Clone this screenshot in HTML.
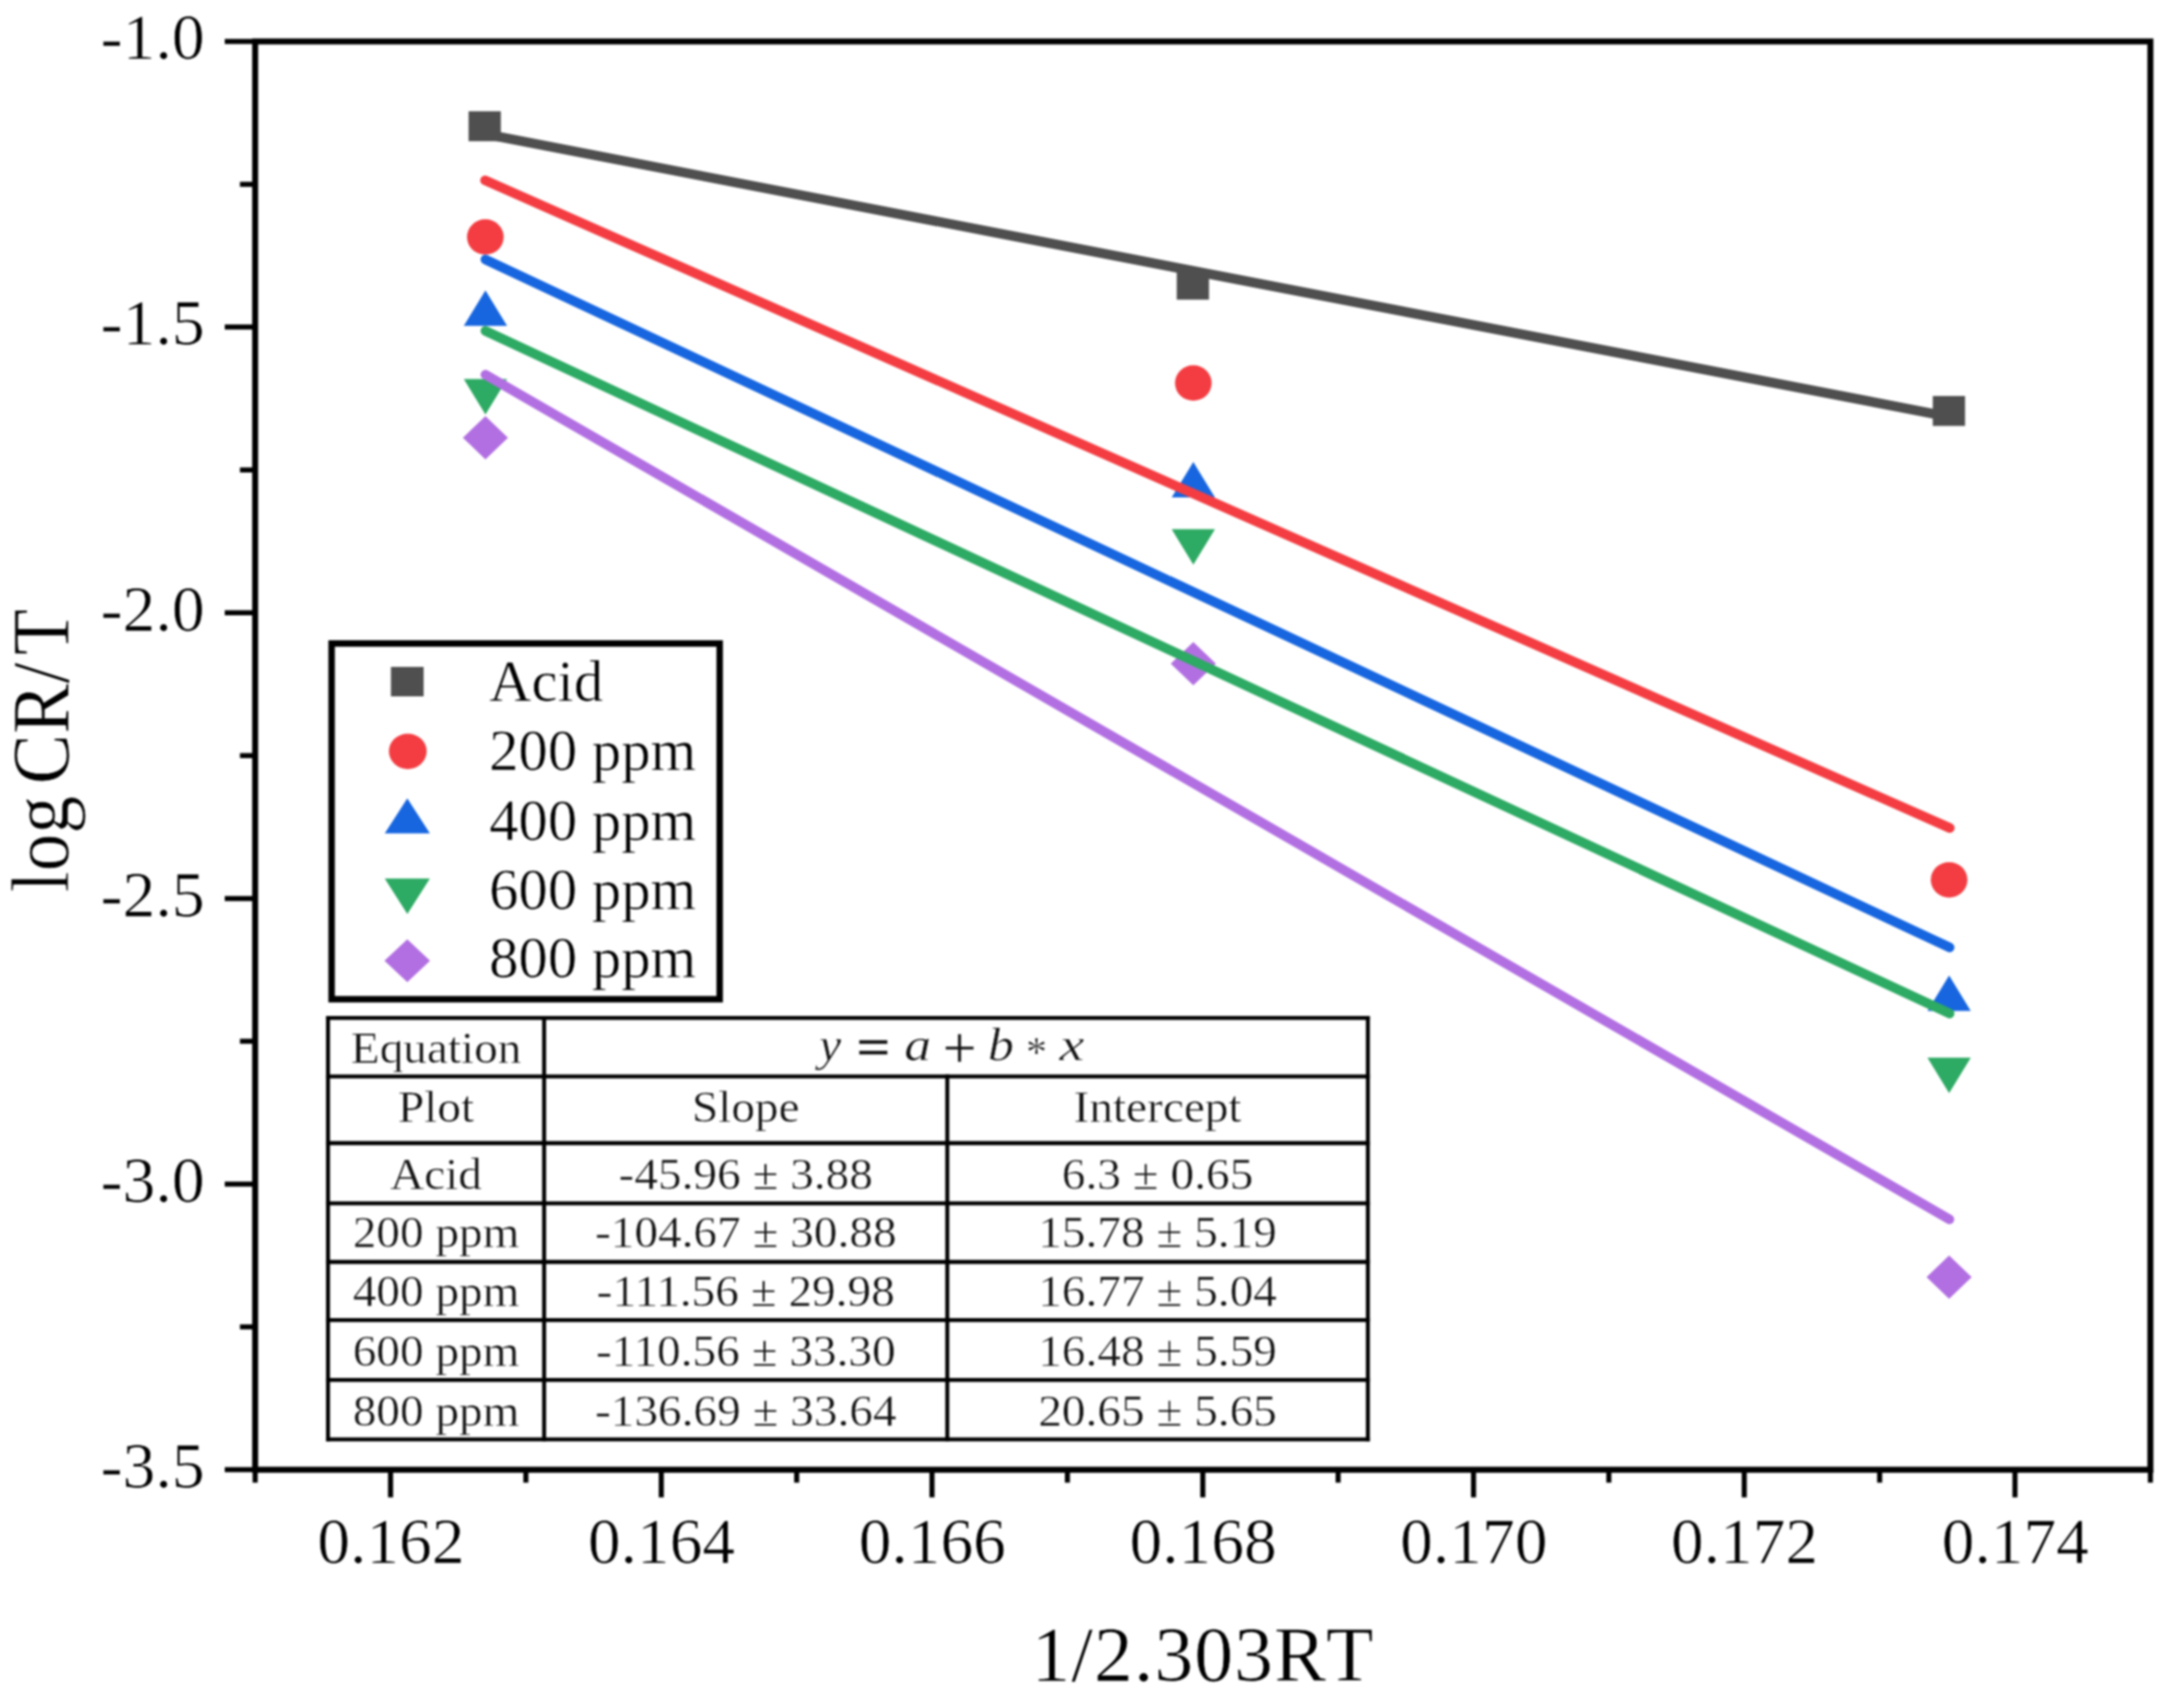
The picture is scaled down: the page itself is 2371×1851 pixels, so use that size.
<!DOCTYPE html>
<html lang="en"><head><meta charset="utf-8"><title>log CR/T vs 1/2.303RT</title>
<style>html,body{margin:0;padding:0;background:#fff}svg{display:block;filter:blur(0.9px)}</style></head>
<body>
<svg width="2371" height="1851" viewBox="0 0 2371 1851" font-family='"Liberation Serif", serif' fill="#000">
<rect width="2371" height="1851" fill="#fff"/>
<g id="markers">
<rect x="508.7" y="120.8" width="35" height="32.5" fill="#4F4F4F"/>
<rect x="1277.5" y="292.8" width="35" height="32.5" fill="#4F4F4F"/>
<rect x="2098.3" y="429.9" width="35" height="32.5" fill="#4F4F4F"/>
<ellipse cx="526.9" cy="257.3" rx="19.9" ry="19.2" fill="#F43D42"/>
<ellipse cx="1295.5" cy="415.8" rx="19.9" ry="19.2" fill="#F43D42"/>
<ellipse cx="2116.0" cy="955.2" rx="19.9" ry="19.2" fill="#F43D42"/>
<polygon points="527.0,315.3 550.5,353.8 503.5,353.8" fill="#1766E0"/>
<polygon points="1295.5,501.6 1319.0,540.1 1272.0,540.1" fill="#1766E0"/>
<polygon points="2116.0,1059.0 2139.5,1097.5 2092.5,1097.5" fill="#1766E0"/>
<polygon points="503.5,411.5 550.5,411.5 527.0,450.0" fill="#2DAA63"/>
<polygon points="1272.0,574.5 1319.0,574.5 1295.5,613.0" fill="#2DAA63"/>
<polygon points="2092.5,1148.3 2139.5,1148.3 2116.0,1186.8" fill="#2DAA63"/>
<polygon points="527.0,451.7 551.5,475.2 527.0,498.7 502.5,475.2" fill="#B26FE2"/>
<polygon points="1295.5,696.9 1320.0,720.4 1295.5,743.9 1271.0,720.4" fill="#B26FE2"/>
<polygon points="2116.0,1363.0 2140.5,1386.5 2116.0,1410.0 2091.5,1386.5" fill="#B26FE2"/>
</g>
<g id="lines">
<line x1="527.0" y1="145.7" x2="2115.5" y2="452.3" stroke="#4F4F4F" stroke-width="10.5" stroke-linecap="round"/>
<line x1="526.6" y1="195.8" x2="2116.7" y2="898.9" stroke="#F43D42" stroke-width="10.5" stroke-linecap="round"/>
<line x1="527" y1="281.7" x2="2116.5" y2="1028.6" stroke="#1766E0" stroke-width="10.5" stroke-linecap="round"/>
<line x1="527" y1="359.3" x2="2116.5" y2="1100.3" stroke="#2DAA63" stroke-width="10.5" stroke-linecap="round"/>
<line x1="527" y1="406.8" x2="2116.3" y2="1323.8" stroke="#B26FE2" stroke-width="10.5" stroke-linecap="round"/>
</g>
<rect x="277.0" y="45.0" width="2057.5" height="1550.6" fill="none" stroke="#000" stroke-width="6.5"/>
<g stroke="#000" stroke-width="5.5" stroke-linecap="butt">
<line x1="244.0" y1="45.0" x2="277.0" y2="45.0"/>
<line x1="260.5" y1="200.1" x2="277.0" y2="200.1"/>
<line x1="244.0" y1="355.1" x2="277.0" y2="355.1"/>
<line x1="260.5" y1="510.2" x2="277.0" y2="510.2"/>
<line x1="244.0" y1="665.2" x2="277.0" y2="665.2"/>
<line x1="260.5" y1="820.3" x2="277.0" y2="820.3"/>
<line x1="244.0" y1="975.4" x2="277.0" y2="975.4"/>
<line x1="260.5" y1="1130.4" x2="277.0" y2="1130.4"/>
<line x1="244.0" y1="1285.5" x2="277.0" y2="1285.5"/>
<line x1="260.5" y1="1440.5" x2="277.0" y2="1440.5"/>
<line x1="244.0" y1="1595.6" x2="277.0" y2="1595.6"/>
<line x1="277.0" y1="1595.6" x2="277.0" y2="1609.6"/>
<line x1="424.0" y1="1595.6" x2="424.0" y2="1625.6"/>
<line x1="570.9" y1="1595.6" x2="570.9" y2="1609.6"/>
<line x1="717.9" y1="1595.6" x2="717.9" y2="1625.6"/>
<line x1="864.9" y1="1595.6" x2="864.9" y2="1609.6"/>
<line x1="1011.8" y1="1595.6" x2="1011.8" y2="1625.6"/>
<line x1="1158.8" y1="1595.6" x2="1158.8" y2="1609.6"/>
<line x1="1305.8" y1="1595.6" x2="1305.8" y2="1625.6"/>
<line x1="1452.7" y1="1595.6" x2="1452.7" y2="1609.6"/>
<line x1="1599.7" y1="1595.6" x2="1599.7" y2="1625.6"/>
<line x1="1746.6" y1="1595.6" x2="1746.6" y2="1609.6"/>
<line x1="1893.6" y1="1595.6" x2="1893.6" y2="1625.6"/>
<line x1="2040.6" y1="1595.6" x2="2040.6" y2="1609.6"/>
<line x1="2187.5" y1="1595.6" x2="2187.5" y2="1625.6"/>
<line x1="2334.5" y1="1595.6" x2="2334.5" y2="1609.6"/>
</g>
<g font-size="70" text-anchor="end" stroke="#fff" stroke-width="0.7">
<text transform="translate(222.3 64.3) scale(1.02 1)">-1.0</text>
<text transform="translate(222.3 374.4) scale(1.02 1)">-1.5</text>
<text transform="translate(222.3 684.5) scale(1.02 1)">-2.0</text>
<text transform="translate(222.3 994.7) scale(1.02 1)">-2.5</text>
<text transform="translate(222.3 1304.8) scale(1.02 1)">-3.0</text>
<text transform="translate(222.3 1614.9) scale(1.02 1)">-3.5</text>
</g>
<g font-size="70" text-anchor="middle" stroke="#fff" stroke-width="0.7">
<text transform="translate(424.3 1697) scale(1.015 1)">0.162</text>
<text transform="translate(718.2 1697) scale(1.015 1)">0.164</text>
<text transform="translate(1012.1 1697) scale(1.015 1)">0.166</text>
<text transform="translate(1306.1 1697) scale(1.015 1)">0.168</text>
<text transform="translate(1600.0 1697) scale(1.015 1)">0.170</text>
<text transform="translate(1893.9 1697) scale(1.015 1)">0.172</text>
<text transform="translate(2187.8 1697) scale(1.015 1)">0.174</text>
</g>
<text x="1306" y="1824.6" font-size="84.5" letter-spacing="1.1" text-anchor="middle" stroke="#fff" stroke-width="0.7">1/2.303R<tspan dx="4">T</tspan></text>
<text transform="translate(73.6 815) rotate(-90) scale(1 1.074)" font-size="82" text-anchor="middle" stroke="#fff" stroke-width="0.7">log<tspan dx="-8"> CR/</tspan><tspan dx="8">T</tspan></text>
<rect x="360" y="698.6" width="421.3" height="386.2" fill="#fff" stroke="#000" stroke-width="7"/>
<rect x="424.4" y="724.0" width="35.5" height="32" fill="#4F4F4F"/>
<ellipse cx="442.7" cy="815.7" rx="20.5" ry="19.2" fill="#F43D42"/>
<polygon points="442.2,866.7 466.7,904.7 417.7,904.7" fill="#1766E0"/>
<polygon points="417.7,953.8 466.7,953.8 442.2,992.3" fill="#2DAA63"/>
<polygon points="442.2,1019.8 466.9,1043.1 442.2,1066.3 417.4,1043.1" fill="#B26FE2"/>
<g font-size="63" stroke="#fff" stroke-width="0.6">
<text transform="translate(531 761) scale(1.012 1)">Acid</text>
<text transform="translate(531 835.8) scale(1.012 1)">200 ppm</text>
<text transform="translate(531 911.5) scale(1.012 1)">400 ppm</text>
<text transform="translate(531 986.8) scale(1.012 1)">600 ppm</text>
<text transform="translate(531 1061.2) scale(1.012 1)">800 ppm</text>
</g>
<rect x="356.1" y="1105.2" width="1128.9" height="457.5" fill="#fff"/>
<g stroke="#000" stroke-width="4.3" stroke-linecap="square">
<line x1="356.1" y1="1105.2" x2="1485.0" y2="1105.2"/>
<line x1="356.1" y1="1168.6" x2="1485.0" y2="1168.6"/>
<line x1="356.1" y1="1241" x2="1485.0" y2="1241"/>
<line x1="356.1" y1="1306.4" x2="1485.0" y2="1306.4"/>
<line x1="356.1" y1="1370" x2="1485.0" y2="1370"/>
<line x1="356.1" y1="1433.1" x2="1485.0" y2="1433.1"/>
<line x1="356.1" y1="1498.2" x2="1485.0" y2="1498.2"/>
<line x1="356.1" y1="1562.7" x2="1485.0" y2="1562.7"/>
<line x1="356.1" y1="1105.2" x2="356.1" y2="1562.7"/>
<line x1="1485.0" y1="1105.2" x2="1485.0" y2="1562.7"/>
<line x1="590.7" y1="1105.2" x2="590.7" y2="1562.7"/>
<line x1="1028.4" y1="1168.6" x2="1028.4" y2="1562.7"/>
</g>
<g font-size="49" text-anchor="middle" fill="#111" stroke="#fff" stroke-width="0.5">
<text transform="translate(473.4 1153.9) scale(1.047 1)">Equation</text>
<text transform="translate(473.4 1217.6) scale(1.047 1)">Plot</text>
<text transform="translate(809.6 1217.6) scale(1.047 1)">Slope</text>
<text transform="translate(1256.7 1217.6) scale(1.047 1)">Intercept</text>
<text transform="translate(473.4 1290.9) scale(1.047 1)">Acid</text>
<text transform="translate(809.6 1290.9) scale(1.047 1)">-45.96 ± 3.88</text>
<text transform="translate(1256.7 1290.9) scale(1.047 1)">6.3 ± 0.65</text>
<text transform="translate(473.4 1353.9) scale(1.047 1)">200 ppm</text>
<text transform="translate(809.6 1353.9) scale(1.047 1)">-104.67 ± 30.88</text>
<text transform="translate(1256.7 1353.9) scale(1.047 1)">15.78 ± 5.19</text>
<text transform="translate(473.4 1418.4) scale(1.047 1)">400 ppm</text>
<text transform="translate(809.6 1418.4) scale(1.047 1)">-111.56 ± 29.98</text>
<text transform="translate(1256.7 1418.4) scale(1.047 1)">16.77 ± 5.04</text>
<text transform="translate(473.4 1483) scale(1.047 1)">600 ppm</text>
<text transform="translate(809.6 1483) scale(1.047 1)">-110.56 ± 33.30</text>
<text transform="translate(1256.7 1483) scale(1.047 1)">16.48 ± 5.59</text>
<text transform="translate(473.4 1547.5) scale(1.047 1)">800 ppm</text>
<text transform="translate(809.6 1547.5) scale(1.047 1)">-136.69 ± 33.64</text>
<text transform="translate(1256.7 1547.5) scale(1.047 1)">20.65 ± 5.65</text>
</g>
<text y="1151" font-size="49" fill="#111" stroke="#fff" stroke-width="0.5"><tspan x="889.20" dy="0.00" font-size="50" font-style="italic" textLength="23.98" lengthAdjust="spacingAndGlyphs">y</tspan><tspan> </tspan><tspan x="927.50" dy="3.50" font-size="58" font-family="DejaVu Serif, serif" textLength="41.31" lengthAdjust="spacingAndGlyphs">=</tspan><tspan> </tspan><tspan x="981.80" dy="-3.50" font-size="50" font-style="italic" textLength="29.00" lengthAdjust="spacingAndGlyphs">a</tspan><tspan> </tspan><tspan x="1021.20" dy="1.60" font-size="49" font-family="DejaVu Serif, serif">+</tspan><tspan> </tspan><tspan x="1072.60" dy="-1.60" font-size="50" font-style="italic" textLength="28.25" lengthAdjust="spacingAndGlyphs">b</tspan><tspan> </tspan><tspan x="1113.80" dy="6.50" font-size="46" >*</tspan><tspan> </tspan><tspan x="1150.00" dy="-6.50" font-size="50" font-style="italic" textLength="27.31" lengthAdjust="spacingAndGlyphs">x</tspan></text>
</g>
</svg>
</body></html>
